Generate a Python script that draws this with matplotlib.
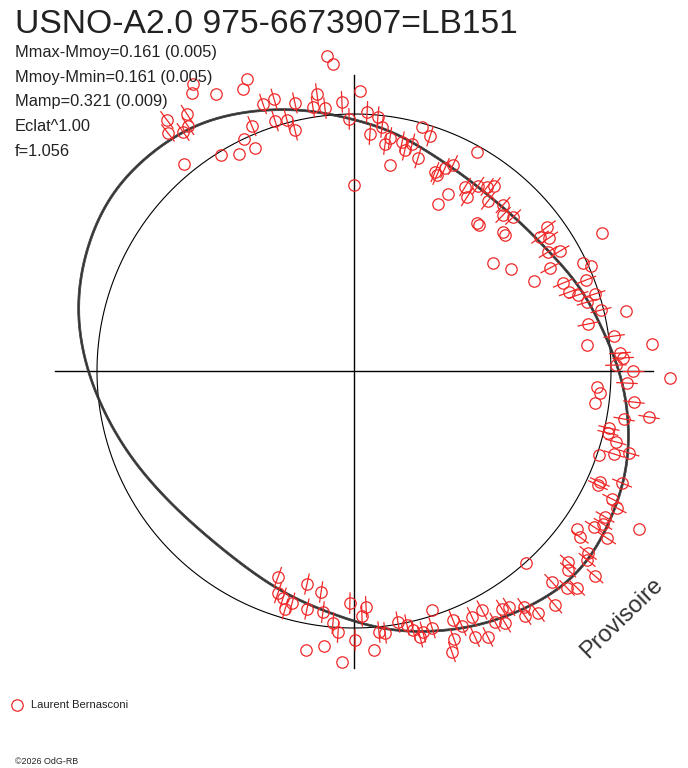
import numpy as np
import matplotlib.pyplot as plt
from matplotlib.collections import LineCollection

plt.rcParams['font.family'] = ['Liberation Sans', 'DejaVu Sans']

title = "USNO-A2.0 975-6673907=LB151"
stats = ["Mmax-Mmoy=0.161 (0.005)", "Mmoy-Mmin=0.161 (0.005)",
         "Mamp=0.321 (0.009)", "Eclat^1.00", "f=1.056"]
observer = "Laurent Bernasconi"
credit = "\u00a92026 OdG-RB"
stamp = "Provisoire"

# fitted light curve : angle (deg) -> radius (reference circle = 1)
fit_angle = np.arange(0, 360, 10)
fit_radius = [1.030, 0.978, 0.936, 0.895, 0.869, 0.860, 0.869, 0.895, 0.936, 0.978,
              1.027, 1.078, 1.124, 1.152, 1.163, 1.154, 1.126, 1.086, 1.033, 0.980,
              0.933, 0.895, 0.869, 0.860, 0.869, 0.895, 0.928, 0.973, 1.025, 1.072,
              1.115, 1.152, 1.168, 1.152, 1.124, 1.082]

# observations (units of the reference circle radius), 1 = error bar drawn
obs_x = [-0.105, -0.082, -0.416, -0.432, -0.626, -0.630, -0.537, -0.728, -0.724, -0.650,
         -0.646, -0.665, -0.354, -0.311, -0.230, -0.144, -0.160, -0.113, -0.047, -0.307,
         -0.261, -0.230, -0.397, -0.428, -0.385, -0.518, -0.447, -0.661, -0.019, 0.051,
         0.093, 0.062, 0.121, 0.023, 0.000, 0.140, 0.109, 0.140, 0.187, 0.198,
         0.226, 0.265, 0.296, 0.249, 0.479, 0.315, 0.323, 0.354, 0.385, 0.366,
         0.327, 0.432, 0.440, 0.482, 0.518, 0.545, 0.521, 0.580, 0.580, 0.619,
         0.479, 0.486, 0.580, 0.588, 0.724, 0.751, 0.759, 0.755, 0.802, 0.965,
         0.541, 0.611, 0.700, 0.763, 0.891, 0.922, 0.903, 0.813, 0.837, 0.872,
         0.907, 0.938, 0.961, 1.058, 0.911, 1.012, 0.907, 1.160, 1.035, 1.047,
         1.019, 1.086, 1.230, 0.946, 0.957, 0.938, 1.062, 1.089, 1.051, 1.148,
         0.992, 0.988, 1.019, 0.953, 1.012, 1.070, 0.957, 0.949, 1.043, 1.004,
         1.023, 0.977, 0.969, 0.934, 0.868, 1.109, 0.879, 0.984, 0.911, 0.907,
         0.833, 0.833, 0.938, 0.770, 0.829, 0.868, 0.782, 0.716, 0.669, 0.661,
         0.665, 0.603, 0.576, 0.588, 0.498, 0.459, 0.420, 0.385, 0.304, 0.549,
         0.471, 0.521, 0.389, 0.381, 0.304, 0.268, -0.296, -0.183, -0.128, -0.296,
         -0.276, -0.241, -0.268, -0.183, -0.121, -0.082, -0.062, -0.016, 0.047, 0.031,
         0.004, -0.187, -0.117, -0.047, 0.078, 0.097, 0.121, 0.171, 0.206, 0.230,
         0.257]
obs_y = [1.226, 1.195, 1.136, 1.097, 1.117, 1.082, 1.078, 0.977, 0.926, 1.000,
         0.953, 0.930, 1.039, 1.058, 1.043, 1.078, 1.027, 1.023, 1.047, 0.973,
         0.977, 0.938, 0.953, 0.903, 0.868, 0.840, 0.844, 0.805, 0.981, 1.008,
         0.988, 0.922, 0.883, 1.089, 0.724, 0.802, 0.949, 0.907, 0.891, 0.860,
         0.883, 0.949, 0.914, 0.829, 0.852, 0.774, 0.763, 0.790, 0.802, 0.689,
         0.650, 0.716, 0.677, 0.720, 0.716, 0.720, 0.661, 0.646, 0.607, 0.599,
         0.576, 0.568, 0.541, 0.529, 0.521, 0.560, 0.518, 0.463, 0.467, 0.537,
         0.420, 0.397, 0.350, 0.401, 0.420, 0.409, 0.354, 0.342, 0.307, 0.296,
         0.268, 0.300, 0.237, 0.233, 0.183, 0.136, 0.101, 0.105, 0.070, 0.051,
         0.023, 0.000, -0.027, -0.062, -0.086, -0.125, -0.047, -0.121, -0.187, -0.179,
         -0.222, -0.241, -0.276, -0.327, -0.323, -0.319, -0.432, -0.444, -0.436, -0.498,
         -0.533, -0.568, -0.595, -0.607, -0.615, -0.615, -0.646, -0.650, -0.708, -0.735,
         -0.743, -0.774, -0.798, -0.821, -0.844, -0.844, -0.911, -0.942, -0.747, -0.918,
         -0.953, -0.918, -0.926, -0.981, -0.930, -0.957, -0.992, -0.969, -0.930, -0.977,
         -1.035, -1.035, -1.043, -1.093, -1.000, -1.016, -0.802, -0.829, -0.860, -0.864,
         -0.883, -0.903, -0.926, -0.926, -0.938, -0.981, -1.016, -0.903, -0.918, -0.953,
         -1.047, -1.086, -1.070, -1.132, -1.086, -1.016, -1.019, -0.977, -0.988, -1.008,
         -1.035]
obs_bar = [0, 0, 0, 0, 0, 0, 0, 1, 1, 1,
           1, 1, 1, 1, 1, 1, 1, 1, 1, 1,
           1, 1, 1, 0, 0, 0, 0, 0, 1, 1,
           1, 1, 1, 0, 0, 0, 1, 1, 1, 1,
           1, 0, 1, 1, 0, 1, 1, 1, 1, 0,
           0, 1, 1, 1, 1, 1, 1, 1, 1, 1,
           0, 0, 0, 0, 1, 1, 1, 1, 1, 0,
           0, 0, 0, 1, 0, 0, 1, 1, 1, 1,
           1, 1, 1, 0, 1, 1, 0, 0, 1, 1,
           1, 1, 0, 0, 0, 0, 1, 1, 1, 1,
           1, 1, 1, 0, 1, 1, 1, 1, 1, 1,
           1, 1, 1, 1, 0, 0, 1, 1, 1, 1,
           1, 1, 1, 1, 1, 1, 1, 1, 0, 1,
           1, 1, 1, 1, 1, 1, 1, 1, 0, 1,
           1, 1, 1, 1, 1, 1, 1, 1, 1, 1,
           1, 1, 1, 1, 1, 1, 1, 1, 1, 1,
           1, 0, 0, 0, 0, 1, 1, 1, 1, 1,
           1]
bar_half = 0.042

W, H = 688, 768
cx, cy, R = 354, 371, 257   # pixel position of the pole and circle radius
red = '#f02828'
ink = '#222222'

fig = plt.figure(figsize=(W / 100, H / 100), dpi=100)
ax = fig.add_axes([0, 0, 1, 1])
ax.set_xlim(-cx / R, (W - cx) / R)
ax.set_ylim((cy - H) / R, cy / R)
ax.axis('off')

# axes cross and reference circle
ax.plot([-1.163, 1.163], [0, 0], color='black', lw=1)
ax.plot([0, 0], [-1.155, 1.152], color='black', lw=1)
t = np.linspace(0, 2 * np.pi, 721)
ax.plot(np.cos(t), np.sin(t), color='black', lw=0.8)

# fitted curve, drawn smooth through the read knots (periodic resampling)
n = 720
spec = np.fft.rfft(fit_radius)
rs = np.fft.irfft(spec, n) * n / len(fit_radius)
th = np.linspace(0, 2 * np.pi, n, endpoint=False)
th = np.append(th, th[0])
rs = np.append(rs, rs[0])
for off, lw in [(-0.004, 0.5), (0.0, 1.3), (0.004, 0.5)]:
    ax.plot((rs + off) * np.cos(th), (rs + off) * np.sin(th), color='#333333', lw=lw)

# radial error bars
x = np.array(obs_x)
y = np.array(obs_y)
bar = np.array(obs_bar, dtype=bool)
r = np.hypot(x, y)
ux, uy = x / r, y / r
segs = [[((ri - bar_half) * a, (ri - bar_half) * b), ((ri + bar_half) * a, (ri + bar_half) * b)]
        for ri, a, b in zip(r[bar], ux[bar], uy[bar])]
ax.add_collection(LineCollection(segs, colors=red, linewidths=0.9))

ax.plot(x, y, 'o', mfc='none', mec=red, mew=0.9, ms=8.2)

# legend
ax.plot([(17 - cx) / R], [(cy - 705) / R], 'o', mfc='none', mec=red, mew=0.9, ms=8.2)
fig.text(31 / W, 1 - 705 / H, observer, fontsize=8, color=ink, va='center')

# texts
fig.text(15 / W, 1 - 33 / H, title, fontsize=24.2, color=ink, va='baseline')
for i, s in enumerate(stats):
    base = [57, 82, 106, 131, 156][i]
    fig.text(15 / W, 1 - base / H, s, fontsize=11.8, color=ink, va='baseline')
fig.text(15 / W, 1 - 762 / H, credit, fontsize=6.4, color=ink, va='center')
fig.text(622 / W, 1 - 618 / H, stamp, fontsize=17, color='#333333', rotation=44,
         ha='center', va='center', rotation_mode='anchor')

fig.savefig('out.png', dpi=100)
